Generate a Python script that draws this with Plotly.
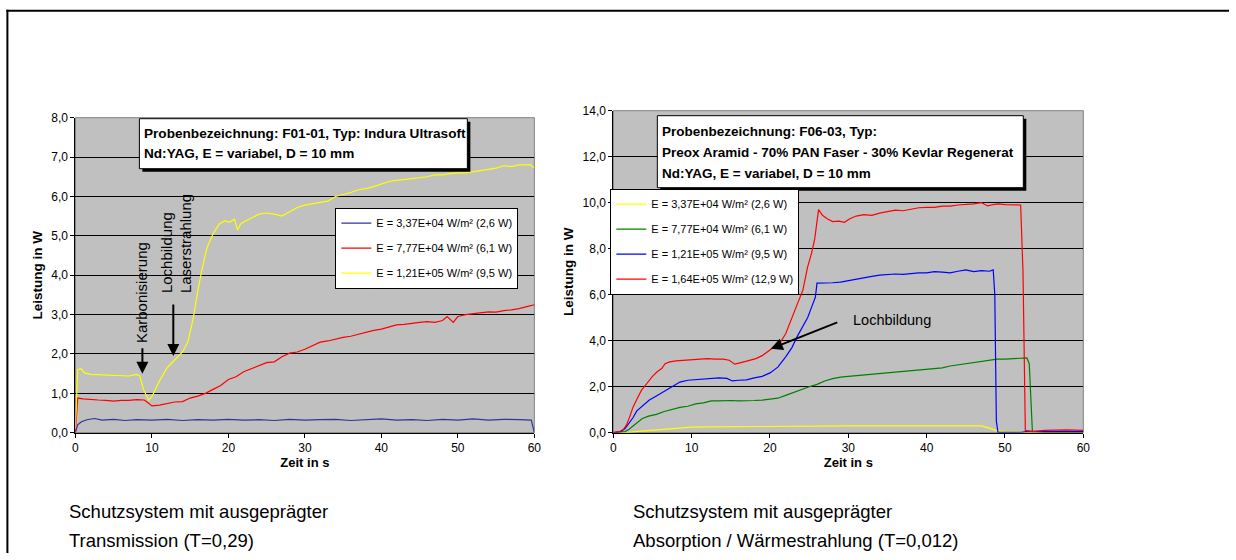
import plotly.graph_objects as go

W, H = 1236, 560
FONT = "Liberation Sans, Arial, sans-serif"

# ---------------- data: left chart (F01-01) ----------------
left_names = ["E = 3,37E+04 W/m² (2,6 W)", "E = 7,77E+04 W/m² (6,1 W)", "E = 1,21E+05 W/m² (9,5 W)"]
left_colors = ["#333399", "#FF0000", "#FFFF00"]

l_blue_t = [0, 0.3, 0.8, 1.5, 2.5, 3.5, 5, 6.5, 8, 10, 12, 14, 16, 18, 20, 22, 24, 26, 28, 30,
            32, 34, 36, 38, 40, 42, 44, 46, 48, 50, 52, 54, 56, 58, 59.6, 60]
l_blue_v = [0, 0.2, 0.28, 0.33, 0.36, 0.32, 0.34, 0.31, 0.33, 0.32, 0.34, 0.31, 0.33, 0.32, 0.34, 0.32,
            0.33, 0.31, 0.34, 0.32, 0.33, 0.34, 0.31, 0.33, 0.35, 0.32, 0.33, 0.31, 0.34, 0.32, 0.35,
            0.32, 0.34, 0.33, 0.32, 0.0]

l_red_t = [0, 0.3, 1, 2, 3, 4, 5, 6, 7, 8, 9, 9.5, 10, 11, 12, 13, 14, 15, 16, 17, 18, 19, 20, 21,
           22, 23, 24, 25, 26, 27, 28, 29, 30, 31, 32, 33, 34, 35, 36, 37, 38, 39, 40, 41, 42, 43,
           44, 45, 46, 47, 48, 48.6, 49.4, 50, 51, 52, 53, 54, 55, 56, 57, 58, 59, 60]
l_red_v = [0, 0.88, 0.86, 0.84, 0.83, 0.82, 0.80, 0.82, 0.82, 0.84, 0.83, 0.76, 0.68, 0.70, 0.74,
           0.78, 0.79, 0.88, 0.93, 1.0, 1.1, 1.2, 1.35, 1.42, 1.55, 1.62, 1.70, 1.78, 1.80, 1.93,
           2.02, 2.05, 2.12, 2.22, 2.30, 2.33, 2.38, 2.42, 2.45, 2.50, 2.55, 2.60, 2.63, 2.68, 2.74,
           2.75, 2.78, 2.80, 2.82, 2.80, 2.85, 2.95, 2.80, 2.95, 3.0, 3.02, 3.05, 3.07, 3.06, 3.10,
           3.12, 3.15, 3.20, 3.25]

l_yel_t = [0, 0.3, 0.7, 1.2, 2, 3, 4, 5, 6, 7, 8, 8.4, 8.9, 9.6, 10.1, 11, 12, 13, 14, 14.7, 15.4,
           16, 16.5, 17.2, 18, 18.8, 19.5, 20.2, 20.8, 21.2, 21.6, 22, 23, 24, 25, 26, 27, 28, 29,
           30, 31, 32, 33, 34, 35, 36, 37, 38, 39, 40, 41, 42, 43, 44, 45, 46, 47, 48, 49, 50, 51,
           52, 53, 54, 55, 56, 57, 58, 59, 59.5, 60]
l_yel_v = [0.1, 1.6, 1.63, 1.52, 1.48, 1.47, 1.46, 1.45, 1.45, 1.44, 1.48, 1.45, 1.1, 0.82, 0.95,
           1.32, 1.65, 1.85, 2.05, 2.3, 2.9, 3.6, 4.1, 4.7, 5.05, 5.3, 5.38, 5.35, 5.42, 5.15, 5.3,
           5.35, 5.45, 5.55, 5.58, 5.55, 5.5, 5.62, 5.72, 5.78, 5.82, 5.85, 5.88, 6.0, 6.05, 6.1,
           6.17, 6.2, 6.25, 6.32, 6.38, 6.41, 6.43, 6.46, 6.48, 6.5, 6.55, 6.55, 6.58, 6.6, 6.6,
           6.63, 6.66, 6.68, 6.72, 6.78, 6.76, 6.8, 6.79, 6.8, 6.72]

# ---------------- data: right chart (F06-03) ----------------
right_names = ["E = 3,37E+04 W/m² (2,6 W)", "E = 7,77E+04 W/m² (6,1 W)",
               "E = 1,21E+05 W/m² (9,5 W)", "E = 1,64E+05 W/m² (12,9 W)"]
right_colors = ["#FFFF00", "#008000", "#0000FF", "#FF0000"]

r_yel_t = [0, 2, 4, 6, 8, 10, 12, 15, 20, 21, 25, 30, 35, 40, 45, 47, 48, 49, 50, 52, 54, 60]
r_yel_v = [0, 0.02, 0.08, 0.14, 0.2, 0.24, 0.25, 0.26, 0.28, 0.3, 0.3, 0.3, 0.3, 0.3, 0.3, 0.3,
           0.2, 0.08, 0.05, 0.03, 0.01, 0]

r_grn_t = [0, 1, 1.5, 2, 2.5, 3, 3.7, 4.5, 5.5, 6.5, 7.5, 8.5, 9.5, 10.5, 11.5, 12.5, 13.5, 15, 16,
           17, 18, 19, 20, 21, 22, 23, 24, 25, 26, 27, 28, 29, 30, 31, 32, 33, 34, 35, 36, 37, 38,
           39, 40, 41, 42, 43, 44, 45, 46, 47, 48, 49, 50, 51, 52, 52.8, 53.1, 53.3, 53.5, 55, 60]
r_grn_v = [0, 0.02, 0.05, 0.15, 0.3, 0.45, 0.62, 0.72, 0.8, 0.92, 1.02, 1.1, 1.15, 1.25, 1.3, 1.38,
           1.38, 1.4, 1.38, 1.38, 1.4, 1.42, 1.45, 1.5, 1.62, 1.75, 1.88, 2.0, 2.1, 2.25, 2.35, 2.42,
           2.45, 2.48, 2.52, 2.55, 2.58, 2.6, 2.62, 2.65, 2.7, 2.72, 2.75, 2.78, 2.82, 2.9, 2.95,
           3.0, 3.05, 3.1, 3.15, 3.2, 3.2, 3.22, 3.25, 3.25, 3.0, 1.4, 0.05, 0.02, 0.02]

r_blu_t = [0, 1, 1.5, 2, 2.5, 3, 3.5, 4, 4.6, 5.5, 6.5, 7.5, 8.5, 9.5, 10.5, 11.5, 12.5, 13.5, 14.5,
           15.2, 16, 17, 18, 19, 20, 21, 22, 22.8, 23.5, 24.2, 24.8, 25.3, 25.8, 26, 27, 28, 29, 30,
           31, 32, 33, 34, 35, 36, 37, 38, 39, 40, 41, 42, 43, 44, 45, 46, 47, 48, 48.5, 48.7, 48.9,
           49.1, 52, 53, 56, 60]
r_blu_v = [0, 0.05, 0.18, 0.4, 0.65, 0.95, 1.1, 1.25, 1.42, 1.6, 1.8, 2.0, 2.2, 2.28, 2.3, 2.35,
           2.35, 2.38, 2.36, 2.25, 2.28, 2.3, 2.38, 2.45, 2.6, 2.85, 3.3, 3.7, 4.2, 4.6, 5.0, 5.45,
           5.9, 6.5, 6.5, 6.52, 6.55, 6.62, 6.68, 6.75, 6.8, 6.85, 6.88, 6.9, 6.88, 6.92, 6.95, 6.95,
           7.0, 6.98, 6.95, 7.02, 7.08, 7.0, 7.05, 7.02, 7.08, 6.0, 0.5, 0.02, 0.02, 0.06, 0.06, 0.05]

r_red_t = [0, 0.8, 1.3, 1.7, 2.1, 2.5, 3, 3.6, 4.3, 5, 5.6, 6.2, 6.6, 7.2, 8, 9, 10, 11, 12, 13, 14,
           14.8, 15.5, 16.3, 17.2, 18.2, 19, 19.8, 20.5, 21.3, 22, 22.8, 23.5, 24.2, 24.8, 25.3,
           25.7, 26.2, 26.7, 27.3, 28, 28.8, 29.5, 30.2, 31, 32, 33, 34, 35, 36, 37, 38, 39, 40,
           41, 42, 43, 44, 45, 46, 47, 47.8, 48.5, 49.2, 50, 51, 52, 52.3, 52.6, 53.5, 55, 58, 60]
r_red_v = [0, 0.05, 0.15, 0.35, 0.7, 1.1, 1.45, 1.85, 2.15, 2.45, 2.65, 2.8, 3.0, 3.08, 3.12, 3.15,
           3.18, 3.2, 3.22, 3.2, 3.2, 3.15, 2.98, 3.05, 3.12, 3.22, 3.35, 3.55, 3.72, 3.92, 4.3,
           4.95, 5.6, 6.2, 7.2, 7.8, 8.4, 9.7, 9.45, 9.3, 9.18, 9.2, 9.15, 9.3, 9.42, 9.48, 9.45,
           9.55, 9.6, 9.68, 9.65, 9.72, 9.78, 9.8, 9.8, 9.85, 9.85, 9.9, 9.92, 9.95, 10.0, 9.86,
           9.92, 9.95, 9.92, 9.9, 9.9, 7.0, 0.1, 0.05, 0.1, 0.12, 0.1]

x_ticks = [0, 10, 20, 30, 40, 50, 60]

# layout helpers: target pixel positions (as seen in the photographed page) -> paper fractions
SX, OX = 0.992, 2.6
SY, OY = 0.975, 6.3


def px(x):
    return ((x - OX) / SX) / W


def py(y):
    return 1 - ((y - OY) / SY) / H


fig = go.Figure()

left_series = [(l_blue_t, l_blue_v), (l_red_t, l_red_v), (l_yel_t, l_yel_v)]
for i, ((t, v), name, col) in enumerate(zip(left_series, left_names, left_colors)):
    fig.add_trace(go.Scatter(x=t, y=v, mode="lines", name=name, line=dict(color=col, width=1.2),
                             xaxis="x", yaxis="y", legend="legend", legendgroup="L%d" % i))

right_series = [(r_yel_t, r_yel_v), (r_grn_t, r_grn_v), (r_blu_t, r_blu_v), (r_red_t, r_red_v)]
for i, ((t, v), name, col) in enumerate(zip(right_series, right_names, right_colors)):
    fig.add_trace(go.Scatter(x=t, y=v, mode="lines", name=name, line=dict(color=col, width=1.2),
                             xaxis="x2", yaxis="y2", legend="legend2", legendgroup="R%d" % i))

tickfont = dict(family=FONT, size=12, color="black")
titlefont = dict(family=FONT, size=13, color="black")


def xax(domain, anchor):
    return dict(domain=domain, anchor=anchor, range=[0, 60], tickmode="array", tickvals=x_ticks,
                ticks="outside", ticklen=4, tickcolor="black", showline=True, linecolor="black",
                linewidth=1, showgrid=False, zeroline=False, tickfont=tickfont,
                title=dict(text="<b>Zeit in s</b>", font=titlefont, standoff=2))


def yax(domain, anchor, rng, dt):
    return dict(domain=domain, anchor=anchor, range=rng, dtick=dt, tick0=0, tickformat=".1f",
                ticks="outside", ticklen=4, tickcolor="black", showline=True, linecolor="black",
                linewidth=1, showgrid=True, gridcolor="black", gridwidth=1, zeroline=False,
                tickfont=tickfont,
                title=dict(text="<b>Leistung in W</b>", font=dict(family=FONT, size=13.5, color="black"),
                           standoff=5))


shapes = [
    # outer frame (top and left edges)
    dict(type="line", xref="paper", yref="paper", x0=px(6), x1=1, y0=py(10), y1=py(10),
         line=dict(color="black", width=2)),
    dict(type="line", xref="paper", yref="paper", x0=px(7), x1=px(7), y0=py(9), y1=0,
         line=dict(color="black", width=2)),
    # plot area borders (grey)
    dict(type="rect", xref="x domain", yref="y domain", x0=0, x1=1, y0=0, y1=1,
         line=dict(color="#808080", width=1), layer="below"),
    dict(type="rect", xref="x2 domain", yref="y2 domain", x0=0, x1=1, y0=0, y1=1,
         line=dict(color="#808080", width=1), layer="below"),
]

# title boxes with shadows
for (x0, y0, x1, y1) in [(139, 118, 467, 168), (657, 115, 1023, 187)]:
    shapes.append(dict(type="rect", xref="paper", yref="paper", x0=px(x0 + 3), x1=px(x1 + 3),
                       y0=py(y1 + 3), y1=py(y0 + 3), fillcolor="black", line=dict(width=0)))
    shapes.append(dict(type="rect", xref="paper", yref="paper", x0=px(x0), x1=px(x1),
                       y0=py(y1), y1=py(y0), fillcolor="white", line=dict(color="black", width=1)))

annotations = []
for txt, y in [("<b>Probenbezeichnung: F01-01, Typ: Indura Ultrasoft</b>", 133),
               ("<b>Nd:YAG, E = variabel, D = 10 mm</b>", 153)]:
    annotations.append(dict(x=px(142), y=py(y), xref="paper", yref="paper", text=txt,
                            showarrow=False, xanchor="left", yanchor="middle",
                            font=dict(family=FONT, size=13.6, color="black")))
for txt, y in [("<b>Probenbezeichnung: F06-03, Typ:</b>", 131),
               ("<b>Preox Aramid - 70% PAN Faser - 30% Kevlar Regenerat</b>", 152),
               ("<b>Nd:YAG, E = variabel, D = 10 mm</b>", 173)]:
    annotations.append(dict(x=px(660), y=py(y), xref="paper", yref="paper", text=txt,
                            showarrow=False, xanchor="left", yanchor="middle",
                            font=dict(family=FONT, size=13.5, color="black")))

note_font = dict(family=FONT, size=15, color="black")
# left chart notes
annotations.append(dict(x=px(141), y=py(292), xref="paper", yref="paper", text="Karbonisierung",
                        textangle=-90, showarrow=False, xanchor="center", yanchor="middle",
                        font=note_font))
annotations.append(dict(x=px(176), y=py(243), xref="paper", yref="paper",
                        text="Lochbildung<br>Laserstrahlung", textangle=-90, align="left",
                        showarrow=False, xanchor="center", yanchor="middle", font=note_font))
annotations.append(dict(x=8.76, y=1.5, xref="x", yref="y", text="", showarrow=True, ax=0, ay=-27,
                        arrowhead=2, arrowsize=1.2, arrowwidth=2, arrowcolor="black"))
annotations.append(dict(x=12.8, y=1.95, xref="x", yref="y", text="", showarrow=True, ax=0, ay=-53,
                        arrowhead=2, arrowsize=1.2, arrowwidth=2, arrowcolor="black"))
# right chart note
annotations.append(dict(x=px(851), y=py(319), xref="paper", yref="paper", text="Lochbildung",
                        showarrow=False, xanchor="left", yanchor="middle",
                        font=dict(family=FONT, size=14.5, color="black")))
annotations.append(dict(x=20.1, y=3.65, xref="x2", yref="y2", text="", showarrow=True, ax=68, ay=-27,
                        arrowhead=2, arrowsize=1.2, arrowwidth=2, arrowcolor="black"))

cap_font = dict(family=FONT, size=18.5, color="black")
for x, lines in [(67, ["Schutzsystem mit ausgeprägter", "Transmission (T=0,29)"]),
                 (631, ["Schutzsystem mit ausgeprägter", "Absorption / Wärmestrahlung (T=0,012)"])]:
    for txt, y in zip(lines, [511, 540]):
        annotations.append(dict(x=px(x), y=py(y), xref="paper", yref="paper", text=txt,
                                showarrow=False, xanchor="left", yanchor="middle", font=cap_font))

legend_common = dict(bgcolor="white", bordercolor="black", borderwidth=1,
                     font=dict(family=FONT, size=11, color="black"), xanchor="right",
                     yanchor="top", tracegroupgap=6, itemwidth=30)

fig.update_layout(
    width=W, height=H, margin=dict(l=0, r=0, t=0, b=0),
    paper_bgcolor="white", plot_bgcolor="#C0C0C0", separators=",.",
    font=dict(family=FONT, size=11, color="black"),
    xaxis=xax([px(75), px(534)], "y"),
    yaxis=yax([py(432), py(117)], "x", [0, 8], 1),
    xaxis2=xax([px(613), px(1083)], "y2"),
    yaxis2=yax([py(432), py(110)], "x2", [0, 14], 2),
    legend=dict(x=px(518), y=py(207), **legend_common),
    legend2=dict(x=px(799), y=py(188), **legend_common),
    shapes=shapes, annotations=annotations, showlegend=True,
)

fig.write_html("out.html", config={"displayModeBar": False},
               post_script="document.body.style.margin='0';document.body.style.overflow='hidden';")
